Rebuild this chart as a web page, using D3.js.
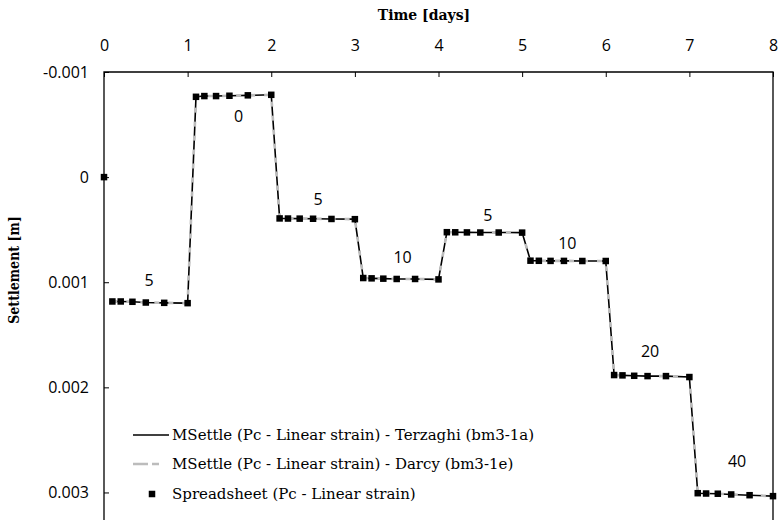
<!DOCTYPE html>
<html>
<head>
<meta charset="utf-8">
<script src="https://cdn.jsdelivr.net/npm/d3@7"></script>
<style>
  html, body { margin: 0; padding: 0; background: #fff; }
  svg { display: block; }
</style>
</head>
<body>
<div id="chart"></div>
<script>
// Time offsets (days) of the output points within each one-day load stage
const stageOffsets = [0.1, 0.2, 0.34, 0.5, 0.72, 1.0];

// Settlement [m] at each output point, one row per load stage
const stageSettlements = [
  [0.001183, 0.001183, 0.001186, 0.001193, 0.001196, 0.001199],
  [-0.000764, -0.000771, -0.000771, -0.000774, -0.000778, -0.000783],
  [0.000393, 0.000394, 0.000395, 0.000396, 0.000398, 0.000400],
  [0.000960, 0.000963, 0.000966, 0.000969, 0.000969, 0.000973],
  [0.000524, 0.000525, 0.000526, 0.000527, 0.000527, 0.000528],
  [0.000795, 0.000796, 0.000797, 0.000797, 0.000798, 0.000798],
  [0.001883, 0.001886, 0.001890, 0.001893, 0.001893, 0.001902],
  [0.003007, 0.003010, 0.003012, 0.003019, 0.003026, 0.003035]
];

// Load applied during each stage, and where its label sits (days, settlement)
const stageLoads = [5, 0, 5, 10, 5, 10, 20, 40];
const loadLabelX = [0.54, 1.61, 2.56, 3.57, 4.59, 5.54, 6.53, 7.57];
const loadLabelY = [0.000986, -0.000573, 0.000212, 0.000763, 0.000365, 0.000630, 0.001654, 0.002704];

// Initial state of the spreadsheet calculation
const initialPoint = { t: 0, s: 0 };

// Axis ticks
const xTicks = [0, 1, 2, 3, 4, 5, 6, 7, 8];
const yTicks = [-0.001, 0, 0.001, 0.002, 0.003];
const yTickLabels = ["-0.001", "0", "0.001", "0.002", "0.003"];

const legendLabels = [
  "MSettle (Pc - Linear strain) - Terzaghi (bm3-1a)",
  "MSettle (Pc - Linear strain) - Darcy (bm3-1e)",
  "Spreadsheet (Pc - Linear strain)"
];

// Flatten the stages into (time, settlement) points
const curve = [];
stageSettlements.forEach((row, i) => {
  row.forEach((s, j) => curve.push({ t: i + stageOffsets[j], s: s }));
});
// The two MSettle runs give the same curve as the spreadsheet
const terzaghi = curve;
const darcy = curve;
const spreadsheet = [initialPoint].concat(curve);

const W = 778, H = 520;
const plot = { left: 104, right: 773, top: 72, bottom: 524 };

const svg = d3.select("#chart").append("svg")
  .attr("width", W).attr("height", H);

const x = d3.scaleLinear().domain([0, 8]).range([plot.left, plot.right]);
const y = d3.scaleLinear().domain([-0.001, 0.0033]).range([plot.top, plot.bottom]);

const tickFont = "'Open Sans', 'Noto Sans', sans-serif";
const slabFont = "'DejaVu Serif', serif";
const slabCondensed = "'DejaVu Serif Condensed', 'DejaVu Serif', serif";

// Frame (top, left, right; the bottom edge runs off the page)
svg.append("path")
  .attr("d", `M${plot.left},${plot.bottom}V${plot.top}H${plot.right}V${plot.bottom}`)
  .attr("fill", "none").attr("stroke", "#000").attr("stroke-width", 1.3);

// Time axis along the top, ticks pointing into the plot
const xAxis = svg.append("g")
  .attr("transform", `translate(0,${plot.top})`)
  .call(d3.axisTop(x).tickValues(xTicks).tickFormat(d3.format("d"))
    .tickSizeInner(-5).tickSizeOuter(0).tickPadding(21));
xAxis.select(".domain").remove();
xAxis.selectAll("text").attr("font-family", tickFont).attr("font-size", 16).attr("fill", "#000");
xAxis.selectAll("line").attr("stroke", "#000");

// Settlement axis on the left, increasing downwards
const yAxis = svg.append("g")
  .attr("transform", `translate(${plot.left},0)`)
  .call(d3.axisLeft(y).tickValues(yTicks).tickFormat((d, i) => yTickLabels[i])
    .tickSizeInner(-5).tickSizeOuter(0).tickPadding(15));
yAxis.select(".domain").remove();
yAxis.selectAll("text").attr("font-family", tickFont).attr("font-size", 16).attr("fill", "#000");
yAxis.selectAll("line").attr("stroke", "#000");

// Axis titles
svg.append("text")
  .attr("x", 424).attr("y", 20)
  .attr("text-anchor", "middle")
  .attr("font-family", slabFont).attr("font-weight", "bold").attr("font-size", 14)
  .text("Time [days]");

svg.append("text")
  .attr("transform", "translate(19,270) rotate(-90)")
  .attr("text-anchor", "middle")
  .attr("font-family", slabCondensed).attr("font-weight", "bold").attr("font-size", 14)
  .text("Settlement [m]");

const line = d3.line().x(d => x(d.t)).y(d => y(d.s));

// MSettle - Terzaghi: solid black
svg.append("path").datum(terzaghi)
  .attr("d", line).attr("fill", "none")
  .attr("stroke", "#000").attr("stroke-width", 1.6);

// MSettle - Darcy: dashed grey drawn over it
svg.append("path").datum(darcy)
  .attr("d", line).attr("fill", "none")
  .attr("stroke", "#bcbcbc").attr("stroke-width", 2.6)
  .attr("stroke-dasharray", "5,9");

// Spreadsheet results: square markers
const ms = 6.5;
svg.append("g").selectAll("rect").data(spreadsheet).join("rect")
  .attr("x", d => x(d.t) - ms / 2).attr("y", d => y(d.s) - ms / 2)
  .attr("width", ms).attr("height", ms).attr("fill", "#000");

// Load labels
svg.append("g").selectAll("text").data(stageLoads).join("text")
  .attr("x", (d, i) => x(loadLabelX[i]))
  .attr("y", (d, i) => y(loadLabelY[i]))
  .attr("dy", "0.35em")
  .attr("text-anchor", "middle")
  .attr("font-family", tickFont).attr("font-size", 16).attr("fill", "#000")
  .text(d => d);

// Legend
const legend = svg.append("g");
const legY = [435, 464, 494];
legend.append("line")
  .attr("x1", 133).attr("x2", 169).attr("y1", legY[0]).attr("y2", legY[0])
  .attr("stroke", "#000").attr("stroke-width", 1.6);
legend.append("line")
  .attr("x1", 133).attr("x2", 169).attr("y1", legY[1]).attr("y2", legY[1])
  .attr("stroke", "#bcbcbc").attr("stroke-width", 2.6)
  .attr("stroke-dasharray", "15,4,7,50");
legend.append("rect")
  .attr("x", 152 - ms / 2).attr("y", legY[2] - ms / 2)
  .attr("width", ms).attr("height", ms).attr("fill", "#000");
legend.selectAll("text").data(legendLabels).join("text")
  .attr("x", 172).attr("y", (d, i) => legY[i])
  .attr("dy", "0.35em")
  .attr("font-family", slabFont).attr("font-size", 15).attr("fill", "#000")
  .text(d => d);
</script>
</body>
</html>
